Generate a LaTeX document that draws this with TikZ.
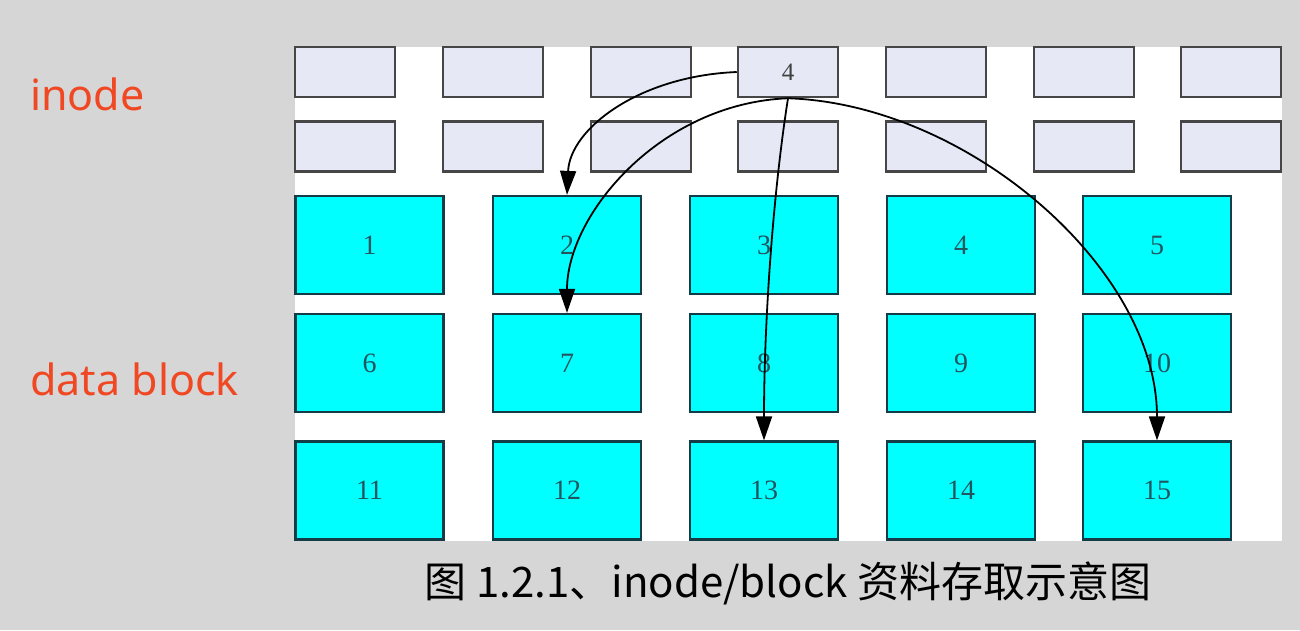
\documentclass[tikz,border=0pt]{standalone}
\usepackage{fontspec}
\setmainfont{Liberation Serif}
\newfontfamily\tagfont{Noto Sans}
\newfontfamily\capfont{Noto Sans CJK SC}
\usetikzlibrary{arrows.meta}
\definecolor{bggray}{RGB}{214,214,214}
\definecolor{inodefill}{RGB}{230,233,245}
\definecolor{inodeline}{RGB}{70,70,70}
\definecolor{blockfill}{RGB}{0,255,255}
\definecolor{blockline}{RGB}{20,60,70}
\definecolor{blocktext}{RGB}{35,85,95}
\definecolor{tagred}{RGB}{240,72,35}

\begin{document}
\begin{tikzpicture}[x=1pt,y=-1pt,
  inode/.style={draw=inodeline,fill=inodefill,line width=2.5pt,minimum width=100pt,minimum height=50pt,inner sep=0pt,text=black!75,font=\fontsize{25}{25}\selectfont},
  blk/.style={draw=blockline,fill=blockfill,line width=2.2pt,minimum width=148pt,minimum height=98pt,inner sep=0pt,text=blocktext,font=\fontsize{28}{28}\selectfont},
  link/.style={line width=1.8pt,-{Triangle[length=24pt,width=16pt]}},
  tag/.style={anchor=base west,inner sep=0pt,text=tagred,font=\tagfont\fontsize{43}{43}\selectfont}]
%background and panel
\fill [bggray] (0,0) rectangle (1300,630);
\useasboundingbox (0,0) rectangle (1300,630);
\fill [white] (295,47) rectangle (1282,541);

% inode table, first row
\node [inode] (in1) at (345,72) {};
\node [inode] (in2) at (493,72) {};
\node [inode] (in3) at (641,72) {};
\node [inode] (in4) at (788,72) {4};
\node [inode] (in5) at (936,72) {};
\node [inode] (in6) at (1084,72) {};
\node [inode] (in7) at (1231,72) {};
% inode table, second row
\node [inode] (in8) at (345,146.5) {};
\node [inode] (in9) at (493,146.5) {};
\node [inode] (in10) at (641,146.5) {};
\node [inode] (in11) at (788,146.5) {};
\node [inode] (in12) at (936,146.5) {};
\node [inode] (in13) at (1084,146.5) {};
\node [inode] (in14) at (1231,146.5) {};

% data blocks
\node [blk] (db1) at (369.5,245) {1};
\node [blk] (db2) at (567,245) {2};
\node [blk] (db3) at (764,245) {3};
\node [blk] (db4) at (961,245) {4};
\node [blk] (db5) at (1157,245) {5};
\node [blk] (db6) at (369.5,363) {6};
\node [blk] (db7) at (567,363) {7};
\node [blk] (db8) at (764,363) {8};
\node [blk] (db9) at (961,363) {9};
\node [blk] (db10) at (1157,363) {10};
\node [blk] (db11) at (369.5,490.5) {11};
\node [blk] (db12) at (567,490.5) {12};
\node [blk] (db13) at (764,490.5) {13};
\node [blk] (db14) at (961,490.5) {14};
\node [blk] (db15) at (1157,490.5) {15};

% pointers of inode 4
\draw [link] (in4.west) .. controls +(-98,4) and +(3,-66) .. (db2.north);
\draw [link] (in4.south) .. controls +(-128,5) and +(0,-98) .. (db7.north);
\draw [link] (in4.south) .. controls +(-16,102) and +(0,-111) .. (db13.north);
\draw [link] (in4.south) .. controls +(180,6) and +(0,-172) .. (db15.north);

% Text Node
\node [tag] (tinode) at (30,110) {inode};
% Text Node
\node [tag] (tblock) at (30,395) {data block};
% Text Node
\node [anchor=base,inner sep=0pt,font=\capfont\fontsize{42}{42}\selectfont] (cap) at (788,597) {图 1.2.1、inode/block 资料存取示意图};
\end{tikzpicture}
\end{document}
